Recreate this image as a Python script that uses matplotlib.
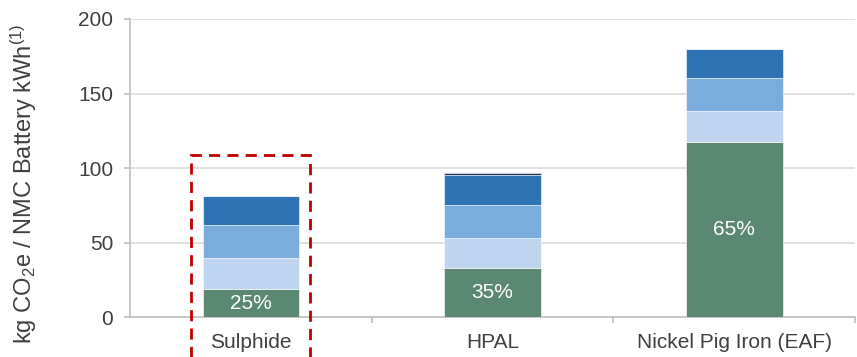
import matplotlib
matplotlib.use("Agg")
import matplotlib.pyplot as plt
import numpy as np
from matplotlib.patches import Rectangle

plt.rcParams["font.family"] = ["Liberation Sans", "DejaVu Sans"]
plt.rcParams["mathtext.fontset"] = "custom"
plt.rcParams["mathtext.rm"] = "Liberation Sans"
plt.rcParams["mathtext.it"] = "Liberation Sans"

categories = ["Sulphide", "HPAL", "Nickel Pig Iron (EAF)"]
seg_green = [19.0, 33.0, 117.8]
seg_light = [20.5, 20.3, 20.7]
seg_mid = [22.1, 22.1, 22.1]
seg_dark = [19.6, 20.1, 19.6]
seg_navy = [0.0, 1.2, 0.0]
share_labels = ["25%", "35%", "65%"]
y_ticks = [0, 50, 100, 150, 200]

colors = ["#5B8872", "#BFD5EF", "#7AADDC", "#2E74B5", "#1A3560"]
text_grey = "#404040"

fig = plt.figure(figsize=(8.57, 3.57), dpi=100)
ax = fig.add_axes([0.1517, 0.1112, 0.846, 0.8356])

x = np.arange(len(categories))
width = 0.40
bottom = np.zeros(len(categories))
for seg, col in zip([seg_green, seg_light, seg_mid, seg_dark, seg_navy], colors):
    ax.bar(x, seg, width, bottom=bottom, color=col, edgecolor="white",
           linewidth=0.4, zorder=3)
    bottom += np.array(seg)

for xi, g, lab in zip(x, seg_green, share_labels):
    ax.text(xi, g / 2, lab, ha="center", va="center", color="white",
            fontsize=15, zorder=4)

# dashed highlight box around the first bar
ax.add_patch(Rectangle((-0.246, -40), 0.492, 148.7, fill=False,
                       edgecolor="#C00000", linewidth=2.0,
                       linestyle=(0, (4.0, 2.6)), clip_on=False, zorder=5))

ax.set_xlim(-0.5, 2.5)
ax.set_ylim(0, 200)
ax.set_yticks(y_ticks)
ax.set_xticks(x)
ax.set_xticklabels(categories)
ax.set_xticks([0.5, 1.5, 2.5], minor=True)
ax.tick_params(axis="x", which="major", length=0, pad=11, labelsize=15,
               labelcolor=text_grey)
ax.tick_params(axis="x", which="minor", length=4, width=1.2, color="#BFBFBF")
ax.tick_params(axis="y", length=4, width=1.2, color="#BFBFBF", pad=8,
               labelsize=15, labelcolor=text_grey)

ax.grid(axis="y", color="#D9D9D9", linewidth=1.1, zorder=0)
ax.set_axisbelow(True)
for side in ["top", "right"]:
    ax.spines[side].set_visible(False)
for side in ["left", "bottom"]:
    ax.spines[side].set_color("#BFBFBF")
    ax.spines[side].set_linewidth(1.2)

ax.set_ylabel("kg CO$_2$e / NMC Battery kWh$^{(1)}$", fontsize=17,
              color=text_grey)
ax.yaxis.set_label_coords(-0.1255, 0.447)

fig.savefig("out.png", dpi=100)
